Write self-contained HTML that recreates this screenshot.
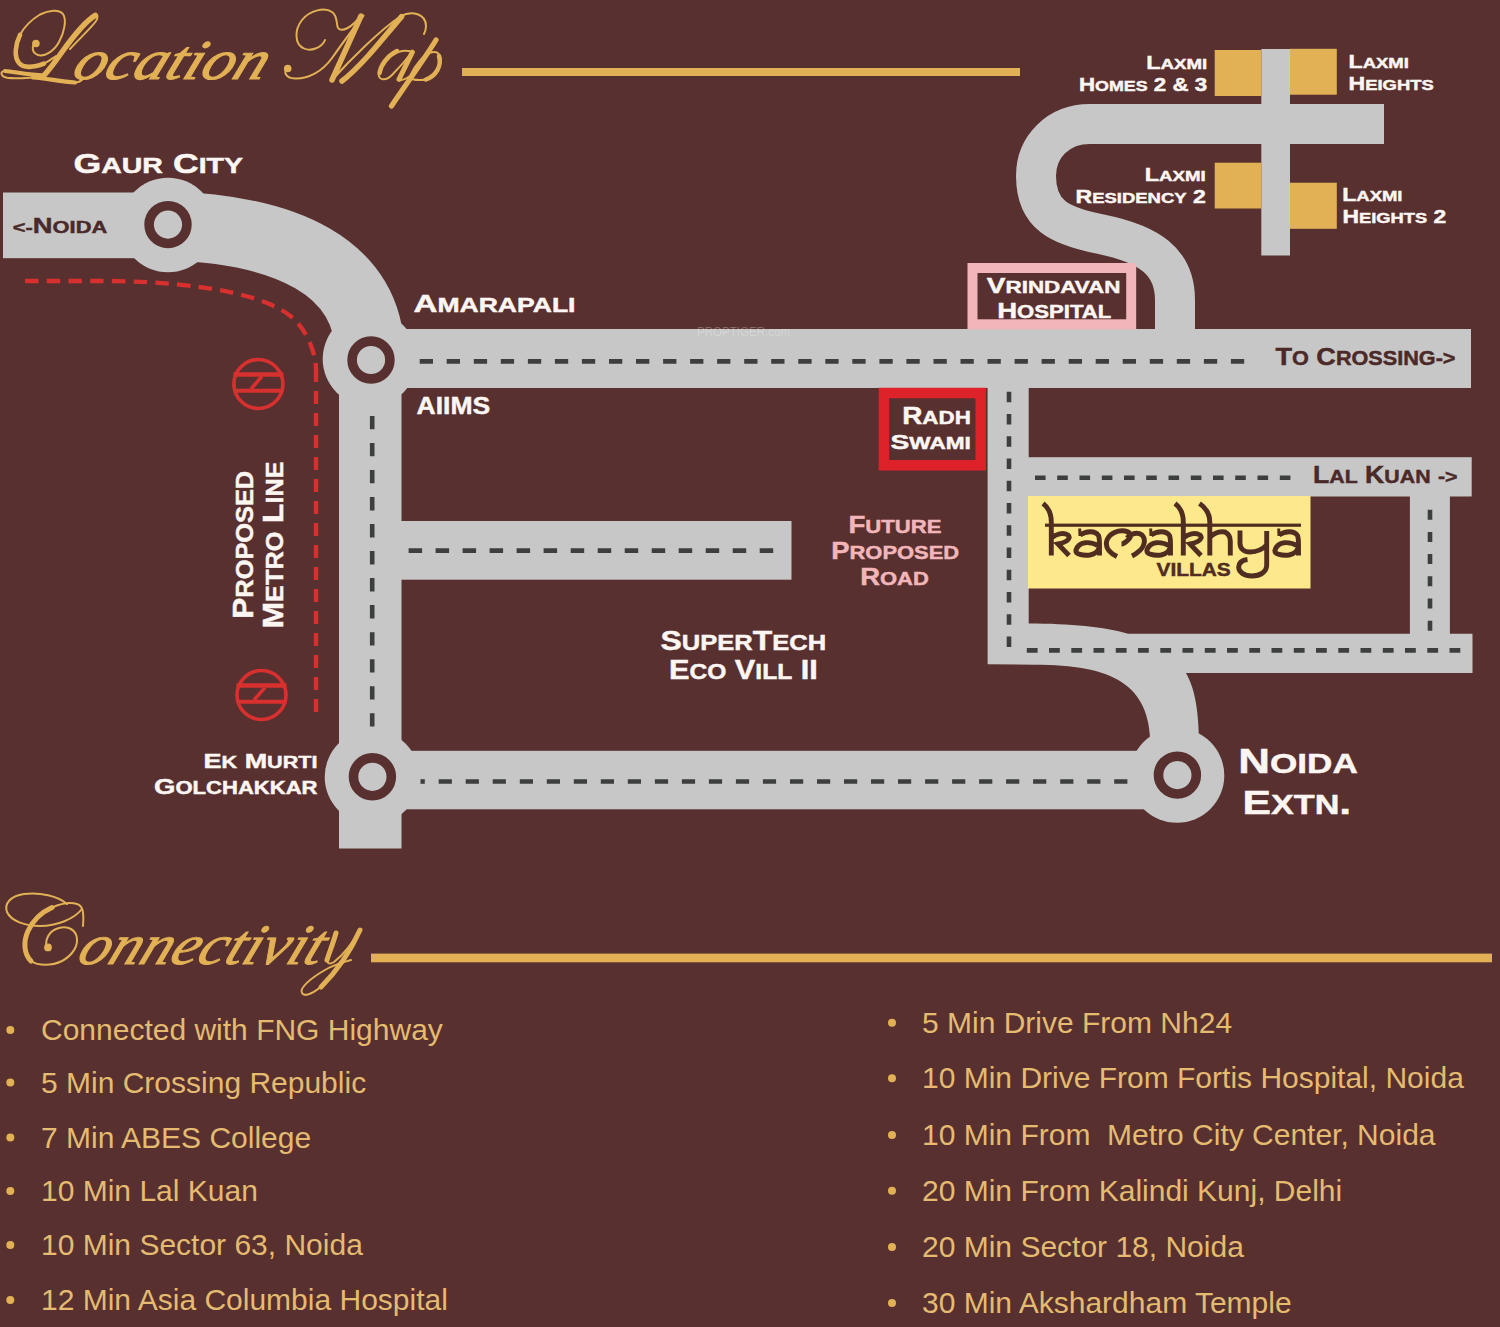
<!DOCTYPE html><html><head><meta charset="utf-8"><style>html,body{margin:0;padding:0;background:#57302f;}svg{display:block;font-family:"Liberation Sans",sans-serif;}</style></head><body>
<svg width="1500" height="1327" viewBox="0 0 1500 1327">
<rect width="1500" height="1327" fill="#57302f"/>
<g fill="none" stroke="#e2b155" stroke-linecap="round" stroke-linejoin="round">
<circle cx="35.9" cy="43.5" r="3.8" fill="#e2b155" stroke="none"/>
<path d="M35.9 43.5 C31 46 32 53 38 55 C45 57 54 51 59 42 C64 33 67 20 63 14 C59 9 49 10 40 14.5 C31 20 24 27 20 35" stroke-width="2"/>
<path d="M20 35 C15 45 14 57 19 63 C23 68 33 68 44 63.7" stroke-width="4.6"/>
<path d="M44 63.7 C49 61 53 58 56 56" stroke-width="2"/>
<path d="M95.3 15.3 C84 22 72 38 62 52 C55 62 49 70 44 75.4" stroke-width="5.5"/>
<path d="M95.3 15.3 C98 13 98 19 96 21 C92 27 80 38 70 49" stroke-width="2"/>
<path d="M44 75.4 C30 75 15 72 5 71" stroke-width="4"/>
<path d="M5 71 C0 71 0 76 7 77.8 C15 79 25 78 33 77.5" stroke-width="2"/>
<path d="M33 77.5 C45 78 60 81.5 75 82.5" stroke-width="4.2"/>
<path d="M75 82.5 C79 82.3 81 81 82 80" stroke-width="2"/>
<circle cx="287.7" cy="68.5" r="3.8" fill="#e2b155" stroke="none"/>
<path d="M287.7 68.5 C283 71 285 78 295 78.5 C308 79 322 72 332 58 C342 44 355 26 363.5 15.5" stroke-width="2"/>
<path d="M361 16 C352 36 342 58 332 80" stroke-width="5.5"/>
<path d="M325 40 C322 48 310 52 303 48 C295 44 294 30 302 20 C310 10 325 7 332 12 C338 16 336 24 338 28 C342 33 352 27 361 16" stroke-width="2"/>
<path d="M332 80 C350 60 380 30 401 16" stroke-width="2"/>
<path d="M401.6 16.6 C390 30 378 45 368 56 C358 67 350 75 342 81" stroke-width="5.5"/>
<path d="M401 16 C412 10 426 14 426 26 C426 30 425 32 424 34" stroke-width="2"/>
<path d="M412 52 C400 47 383 58 379 72 C377 80 385 82 392 75 C398 69 406 60 412 52" stroke-width="2"/>
<path d="M397 51 C387 56 381 65 379.5 73" stroke-width="4.5"/>
<path d="M412.4 52.2 L399 79.3" stroke-width="5"/>
<path d="M399 79.3 C402 81 406 79 410 76" stroke-width="2"/>
<path d="M436 40 C425 58 405 86 391.5 106" stroke-width="5.2"/>
<path d="M410 76 C415 65 425 52 434 52 C441 52 442 60 439 67 C435 76 428 80 420 80 C414 80 411 79 410 78" stroke-width="2"/>
<path d="M439 56 C442 66 436 76 426 79.5" stroke-width="4.5"/>
</g>
<text transform="translate(70 79) skewX(-22)" x="0" y="0" font-family="Liberation Serif" font-style="italic" font-size="56" fill="#e2b155" stroke="#e2b155" stroke-width="1.1" textLength="192" lengthAdjust="spacingAndGlyphs">ocation</text>
<rect x="462" y="68" width="558" height="8" fill="#e2b155"/>
<rect x="3" y="192.5" width="166" height="65.7" fill="#c6c7c6"/>
<path d="M168 226 C282 229 372 265 370 359" stroke="#c6c7c6" stroke-width="69" fill="none"/>
<rect x="370" y="329" width="1101" height="59" fill="#c6c7c6"/>
<rect x="339" y="359" width="62.5" height="489.5" fill="#c6c7c6"/>
<rect x="400" y="521" width="391.5" height="58.7" fill="#c6c7c6"/>
<rect x="372" y="750.8" width="805" height="58.5" fill="#c6c7c6"/>
<circle cx="168" cy="225" r="47.3" fill="#c6c7c6"/>
<circle cx="370" cy="359" r="47.3" fill="#c6c7c6"/>
<circle cx="372" cy="777" r="47.3" fill="#c6c7c6"/>
<circle cx="1177" cy="775.5" r="47.3" fill="#c6c7c6"/>
<path d="M987.6 388 L987.6 664.3 L1034.7 664.7 C1112 664.7 1150.4 684 1150.4 745 L1199 745 C1199 705 1193 685 1185.9 673 L1472.5 673 L1472.5 633.8 L1128 633.8 C1105 627 1070 623.6 1028.7 623.6 L1028.7 388 Z" fill="#c6c7c6"/>
<rect x="1028" y="457.2" width="443.7" height="39.3" fill="#c6c7c6"/>
<rect x="1409.9" y="496" width="40" height="138" fill="#c6c7c6"/>
<path d="M1384 124 L1090 124 C1058 124 1036 147 1036 176 C1036 215 1060 226 1100 234 C1150 244 1175 262 1175 300 L1175 335" stroke="#c6c7c6" stroke-width="40" fill="none"/>
<rect x="1261.3" y="49" width="28.7" height="206.5" fill="#c6c7c6"/>
<rect x="1214.7" y="50" width="46.6" height="46" fill="#e2b155"/>
<rect x="1290" y="48.8" width="46.8" height="45.9" fill="#e2b155"/>
<rect x="1214.7" y="162.7" width="46.6" height="45.8" fill="#e2b155"/>
<rect x="1290" y="182.7" width="46.8" height="46.1" fill="#e2b155"/>
<circle cx="168" cy="224.6" r="18.9" fill="none" stroke="#57302f" stroke-width="9.6"/>
<circle cx="371" cy="360" r="18.9" fill="none" stroke="#57302f" stroke-width="9.6"/>
<circle cx="372.4" cy="776.8" r="18.9" fill="none" stroke="#57302f" stroke-width="9.6"/>
<circle cx="1177.4" cy="775.1" r="18.9" fill="none" stroke="#57302f" stroke-width="9.6"/>
<path d="M419.7 359.10h13.3v4.6h-13.3zM446.7 359.10h13.3v4.6h-13.3zM473.8 359.10h13.3v4.6h-13.3zM500.8 359.10h13.3v4.6h-13.3zM527.9 359.10h13.3v4.6h-13.3zM554.9 359.10h13.3v4.6h-13.3zM581.9 359.10h13.3v4.6h-13.3zM609.0 359.10h13.3v4.6h-13.3zM636.0 359.10h13.3v4.6h-13.3zM663.1 359.10h13.3v4.6h-13.3zM690.1 359.10h13.3v4.6h-13.3zM717.1 359.10h13.3v4.6h-13.3zM744.2 359.10h13.3v4.6h-13.3zM771.2 359.10h13.3v4.6h-13.3zM798.3 359.10h13.3v4.6h-13.3zM825.3 359.10h13.3v4.6h-13.3zM852.3 359.10h13.3v4.6h-13.3zM879.4 359.10h13.3v4.6h-13.3zM906.4 359.10h13.3v4.6h-13.3zM933.5 359.10h13.3v4.6h-13.3zM960.5 359.10h13.3v4.6h-13.3zM987.5 359.10h13.3v4.6h-13.3zM1014.6 359.10h13.3v4.6h-13.3zM1041.6 359.10h13.3v4.6h-13.3zM1068.7 359.10h13.3v4.6h-13.3zM1095.7 359.10h13.3v4.6h-13.3zM1122.7 359.10h13.3v4.6h-13.3zM1149.8 359.10h13.3v4.6h-13.3zM1176.8 359.10h13.3v4.6h-13.3zM1203.9 359.10h13.3v4.6h-13.3zM1230.9 359.10h13.3v4.6h-13.3z" fill="#3d3f3e"/>
<path d="M369.90 416.0h4.6v13.3h-4.6zM369.90 443.0h4.6v13.3h-4.6zM369.90 470.0h4.6v13.3h-4.6zM369.90 497.1h4.6v13.3h-4.6zM369.90 524.1h4.6v13.3h-4.6zM369.90 551.1h4.6v13.3h-4.6zM369.90 578.1h4.6v13.3h-4.6zM369.90 605.1h4.6v13.3h-4.6zM369.90 632.2h4.6v13.3h-4.6zM369.90 659.2h4.6v13.3h-4.6zM369.90 686.2h4.6v13.3h-4.6zM369.90 713.2h4.6v13.3h-4.6z" fill="#3d3f3e"/>
<path d="M408.6 548.30h13.5v4.6h-13.5zM435.6 548.30h13.5v4.6h-13.5zM462.6 548.30h13.5v4.6h-13.5zM489.6 548.30h13.5v4.6h-13.5zM516.6 548.30h13.5v4.6h-13.5zM543.6 548.30h13.5v4.6h-13.5zM570.7 548.30h13.5v4.6h-13.5zM597.7 548.30h13.5v4.6h-13.5zM624.7 548.30h13.5v4.6h-13.5zM651.7 548.30h13.5v4.6h-13.5zM678.7 548.30h13.5v4.6h-13.5zM705.7 548.30h13.5v4.6h-13.5zM732.7 548.30h13.5v4.6h-13.5zM759.7 548.30h13.5v4.6h-13.5z" fill="#3d3f3e"/>
<path d="M438.7 779.20h13.2v4.6h-13.2zM465.7 779.20h13.2v4.6h-13.2zM492.7 779.20h13.2v4.6h-13.2zM519.8 779.20h13.2v4.6h-13.2zM546.8 779.20h13.2v4.6h-13.2zM573.8 779.20h13.2v4.6h-13.2zM600.8 779.20h13.2v4.6h-13.2zM627.8 779.20h13.2v4.6h-13.2zM654.9 779.20h13.2v4.6h-13.2zM681.9 779.20h13.2v4.6h-13.2zM708.9 779.20h13.2v4.6h-13.2zM735.9 779.20h13.2v4.6h-13.2zM762.9 779.20h13.2v4.6h-13.2zM790.0 779.20h13.2v4.6h-13.2zM817.0 779.20h13.2v4.6h-13.2zM844.0 779.20h13.2v4.6h-13.2zM871.0 779.20h13.2v4.6h-13.2zM898.0 779.20h13.2v4.6h-13.2zM925.1 779.20h13.2v4.6h-13.2zM952.1 779.20h13.2v4.6h-13.2zM979.1 779.20h13.2v4.6h-13.2zM1006.1 779.20h13.2v4.6h-13.2zM1033.1 779.20h13.2v4.6h-13.2zM1060.2 779.20h13.2v4.6h-13.2zM1087.2 779.20h13.2v4.6h-13.2zM1114.2 779.20h13.2v4.6h-13.2z" fill="#3d3f3e"/>
<rect x="420.5" y="779.2" width="4.3" height="4.6" fill="#3d3f3e"/>
<path d="M1006.70 391.8h4.6v10.4h-4.6zM1006.70 414.1h4.6v10.4h-4.6zM1006.70 436.3h4.6v10.4h-4.6zM1006.70 458.6h4.6v10.4h-4.6zM1006.70 480.8h4.6v10.4h-4.6zM1006.70 503.1h4.6v10.4h-4.6zM1006.70 525.3h4.6v10.4h-4.6zM1006.70 547.5h4.6v10.4h-4.6zM1006.70 569.8h4.6v10.4h-4.6zM1006.70 592.0h4.6v10.4h-4.6zM1006.70 614.3h4.6v10.4h-4.6zM1006.70 636.5h4.6v10.4h-4.6z" fill="#3d3f3e"/>
<path d="M1035.0 475.50h10.6v4.6h-10.6zM1057.2 475.50h10.6v4.6h-10.6zM1079.5 475.50h10.6v4.6h-10.6zM1101.8 475.50h10.6v4.6h-10.6zM1124.0 475.50h10.6v4.6h-10.6zM1146.2 475.50h10.6v4.6h-10.6zM1168.5 475.50h10.6v4.6h-10.6zM1190.8 475.50h10.6v4.6h-10.6zM1213.0 475.50h10.6v4.6h-10.6zM1235.2 475.50h10.6v4.6h-10.6zM1257.5 475.50h10.6v4.6h-10.6zM1279.8 475.50h10.6v4.6h-10.6z" fill="#3d3f3e"/>
<path d="M1026.8 648.10h10.8v4.6h-10.8zM1049.0 648.10h10.8v4.6h-10.8zM1071.3 648.10h10.8v4.6h-10.8zM1093.5 648.10h10.8v4.6h-10.8zM1115.8 648.10h10.8v4.6h-10.8zM1138.0 648.10h10.8v4.6h-10.8zM1160.3 648.10h10.8v4.6h-10.8zM1182.5 648.10h10.8v4.6h-10.8zM1204.8 648.10h10.8v4.6h-10.8zM1227.0 648.10h10.8v4.6h-10.8zM1249.3 648.10h10.8v4.6h-10.8zM1271.5 648.10h10.8v4.6h-10.8zM1293.8 648.10h10.8v4.6h-10.8zM1316.0 648.10h10.8v4.6h-10.8zM1338.3 648.10h10.8v4.6h-10.8zM1360.5 648.10h10.8v4.6h-10.8zM1382.8 648.10h10.8v4.6h-10.8zM1405.0 648.10h10.8v4.6h-10.8zM1427.3 648.10h10.8v4.6h-10.8zM1449.5 648.10h10.8v4.6h-10.8z" fill="#3d3f3e"/>
<path d="M1427.70 509.7h4.6v10.0h-4.6zM1427.70 531.9h4.6v10.0h-4.6zM1427.70 554.1h4.6v10.0h-4.6zM1427.70 576.3h4.6v10.0h-4.6zM1427.70 598.5h4.6v10.0h-4.6zM1427.70 620.7h4.6v10.0h-4.6z" fill="#3d3f3e"/>
<path d="M25 281 L110 281 C200 282 270 295 295 320 C312 338 316 360 316 369" stroke="#d8302f" stroke-width="4.3" fill="none" stroke-dasharray="13.5 8.2"/>
<path d="M313.8 369.0h4.4v13h-4.4zM313.8 391.0h4.4v13h-4.4zM313.8 413.0h4.4v13h-4.4zM313.8 435.0h4.4v13h-4.4zM313.8 457.0h4.4v13h-4.4zM313.8 479.0h4.4v13h-4.4zM313.8 501.0h4.4v13h-4.4zM313.8 523.0h4.4v13h-4.4zM313.8 545.0h4.4v13h-4.4zM313.8 567.0h4.4v13h-4.4zM313.8 589.0h4.4v13h-4.4zM313.8 611.0h4.4v13h-4.4zM313.8 633.0h4.4v13h-4.4zM313.8 655.0h4.4v13h-4.4zM313.8 677.0h4.4v13h-4.4zM313.8 699.0h4.4v13h-4.4z" fill="#d8302f"/>
<g stroke="#d8302f" fill="none"><circle cx="258.4" cy="384" r="24.5" stroke-width="3.6"/>
<path d="M233.4 374.5H283.4" stroke-width="4.6"/>
<path d="M233.4 390.8H283.4" stroke-width="4"/>
<path d="M261.9 376.5L250.9 389.0" stroke-width="3.6"/></g>
<g stroke="#d8302f" fill="none"><circle cx="261.5" cy="695" r="24.5" stroke-width="3.6"/>
<path d="M236.5 685.5H286.5" stroke-width="4.6"/>
<path d="M236.5 701.8H286.5" stroke-width="4"/>
<path d="M265.0 687.5L254.0 700.0" stroke-width="3.6"/></g>
<rect x="972.5" y="268" width="158.7" height="56.3" fill="none" stroke="#f2b6ba" stroke-width="10"/>
<rect x="883.9" y="393" width="96.8" height="72.3" fill="none" stroke="#dd2229" stroke-width="10.5"/>
<rect x="1028" y="496" width="282.5" height="92.5" fill="#fde98b"/>
<text x="73.5" y="172.5" textLength="169.5" lengthAdjust="spacingAndGlyphs" fill="#fcf6f3" stroke="#fcf6f3" stroke-width="0.45" font-weight="bold" ><tspan font-size="26.81">G</tspan><tspan font-size="21.45">AUR</tspan><tspan font-size="26.81"> C</tspan><tspan font-size="21.45">ITY</tspan></text>
<text x="12.8" y="233.3" textLength="94.4" lengthAdjust="spacingAndGlyphs" fill="#4b2929" stroke="#4b2929" stroke-width="0.45" font-weight="bold" ><tspan font-size="17.39">&lt;-</tspan><tspan font-size="21.74">N</tspan><tspan font-size="17.39">OIDA</tspan></text>
<text x="413.5" y="312.0" textLength="162.0" lengthAdjust="spacingAndGlyphs" fill="#fcf6f3" stroke="#fcf6f3" stroke-width="0.45" font-weight="bold" ><tspan font-size="24.64">A</tspan><tspan font-size="19.71">MARAPALI</tspan></text>
<text x="416.5" y="414.4" textLength="73.7" lengthAdjust="spacingAndGlyphs" fill="#fcf6f3" stroke="#fcf6f3" stroke-width="0.45" font-weight="bold" ><tspan font-size="23.77">AIIMS</tspan></text>
<text x="203.5" y="767.8" textLength="114.0" lengthAdjust="spacingAndGlyphs" fill="#fcf6f3" stroke="#fcf6f3" stroke-width="0.45" font-weight="bold" ><tspan font-size="21.01">E</tspan><tspan font-size="16.81">K</tspan><tspan font-size="21.01"> M</tspan><tspan font-size="16.81">URTI</tspan></text>
<text x="154.0" y="793.9" textLength="163.5" lengthAdjust="spacingAndGlyphs" fill="#fcf6f3" stroke="#fcf6f3" stroke-width="0.45" font-weight="bold" ><tspan font-size="22.32">G</tspan><tspan font-size="17.86">OLCHAKKAR</tspan></text>
<text x="660.5" y="649.6" textLength="165.7" lengthAdjust="spacingAndGlyphs" fill="#fcf6f3" stroke="#fcf6f3" stroke-width="0.45" font-weight="bold" ><tspan font-size="27.54">S</tspan><tspan font-size="22.03">UPER</tspan><tspan font-size="27.54">T</tspan><tspan font-size="22.03">ECH</tspan></text>
<text x="668.9" y="679.0" textLength="148.9" lengthAdjust="spacingAndGlyphs" fill="#fcf6f3" stroke="#fcf6f3" stroke-width="0.45" font-weight="bold" ><tspan font-size="27.10">E</tspan><tspan font-size="21.68">CO</tspan><tspan font-size="27.10"> V</tspan><tspan font-size="21.68">ILL</tspan><tspan font-size="27.10"> II</tspan></text>
<text x="848.5" y="533.3" textLength="93.0" lengthAdjust="spacingAndGlyphs" fill="#f2b6ba" stroke="#f2b6ba" stroke-width="0.45" font-weight="bold" ><tspan font-size="23.62">F</tspan><tspan font-size="18.90">UTURE</tspan></text>
<text x="831.2" y="559.0" textLength="128.0" lengthAdjust="spacingAndGlyphs" fill="#f2b6ba" stroke="#f2b6ba" stroke-width="0.45" font-weight="bold" ><tspan font-size="23.62">P</tspan><tspan font-size="18.90">ROPOSED</tspan></text>
<text x="860.2" y="584.6" textLength="68.6" lengthAdjust="spacingAndGlyphs" fill="#f2b6ba" stroke="#f2b6ba" stroke-width="0.45" font-weight="bold" ><tspan font-size="23.62">R</tspan><tspan font-size="18.90">OAD</tspan></text>
<text x="902.2" y="423.7" textLength="68.6" lengthAdjust="spacingAndGlyphs" fill="#fcf6f3" stroke="#fcf6f3" stroke-width="0.45" font-weight="bold" ><tspan font-size="23.77">R</tspan><tspan font-size="19.01">ADH</tspan></text>
<text x="890.5" y="449.3" textLength="80.3" lengthAdjust="spacingAndGlyphs" fill="#fcf6f3" stroke="#fcf6f3" stroke-width="0.45" font-weight="bold" ><tspan font-size="21.01">S</tspan><tspan font-size="16.81">WAMI</tspan></text>
<text x="986.8" y="292.5" textLength="133.7" lengthAdjust="spacingAndGlyphs" fill="#fcf6f3" stroke="#fcf6f3" stroke-width="0.45" font-weight="bold" ><tspan font-size="21.74">V</tspan><tspan font-size="17.39">RINDAVAN</tspan></text>
<text x="997.2" y="318.3" textLength="114.0" lengthAdjust="spacingAndGlyphs" fill="#fcf6f3" stroke="#fcf6f3" stroke-width="0.45" font-weight="bold" ><tspan font-size="22.32">H</tspan><tspan font-size="17.86">OSPITAL</tspan></text>
<text x="1275.5" y="365.0" textLength="180.0" lengthAdjust="spacingAndGlyphs" fill="#4b2929" stroke="#4b2929" stroke-width="0.45" font-weight="bold" ><tspan font-size="24.64">T</tspan><tspan font-size="19.71">O</tspan><tspan font-size="24.64"> C</tspan><tspan font-size="19.71">ROSSING-&gt;</tspan></text>
<text x="1313.0" y="483.3" textLength="144.5" lengthAdjust="spacingAndGlyphs" fill="#4b2929" stroke="#4b2929" stroke-width="0.45" font-weight="bold" ><tspan font-size="23.19">L</tspan><tspan font-size="18.55">AL</tspan><tspan font-size="23.19"> K</tspan><tspan font-size="18.55">UAN</tspan><tspan font-size="23.19"> </tspan><tspan font-size="18.55">-&gt;</tspan></text>
<text x="1238.2" y="773.3" textLength="119.6" lengthAdjust="spacingAndGlyphs" fill="#fcf6f3" stroke="#fcf6f3" stroke-width="0.45" font-weight="bold" ><tspan font-size="34.78">N</tspan><tspan font-size="27.83">OIDA</tspan></text>
<text x="1242.5" y="814.1" textLength="108.7" lengthAdjust="spacingAndGlyphs" fill="#fcf6f3" stroke="#fcf6f3" stroke-width="0.45" font-weight="bold" ><tspan font-size="33.91">E</tspan><tspan font-size="27.13">XTN</tspan><tspan font-size="33.91">.</tspan></text>
<text x="1146.2" y="69.3" textLength="61.0" lengthAdjust="spacingAndGlyphs" fill="#fcf6f3" stroke="#fcf6f3" stroke-width="0.45" font-weight="bold" ><tspan font-size="19.28">L</tspan><tspan font-size="15.42">AXMI</tspan></text>
<text x="1079.0" y="90.7" textLength="128.2" lengthAdjust="spacingAndGlyphs" fill="#fcf6f3" stroke="#fcf6f3" stroke-width="0.45" font-weight="bold" ><tspan font-size="19.28">H</tspan><tspan font-size="15.42">OMES</tspan><tspan font-size="19.28"> 2 &amp; 3</tspan></text>
<text x="1348.5" y="68.0" textLength="60.4" lengthAdjust="spacingAndGlyphs" fill="#fcf6f3" stroke="#fcf6f3" stroke-width="0.45" font-weight="bold" ><tspan font-size="19.28">L</tspan><tspan font-size="15.42">AXMI</tspan></text>
<text x="1348.5" y="89.8" textLength="85.3" lengthAdjust="spacingAndGlyphs" fill="#fcf6f3" stroke="#fcf6f3" stroke-width="0.45" font-weight="bold" ><tspan font-size="19.28">H</tspan><tspan font-size="15.42">EIGHTS</tspan></text>
<text x="1144.8" y="181.3" textLength="61.0" lengthAdjust="spacingAndGlyphs" fill="#fcf6f3" stroke="#fcf6f3" stroke-width="0.45" font-weight="bold" ><tspan font-size="19.28">L</tspan><tspan font-size="15.42">AXMI</tspan></text>
<text x="1075.5" y="202.7" textLength="130.3" lengthAdjust="spacingAndGlyphs" fill="#fcf6f3" stroke="#fcf6f3" stroke-width="0.45" font-weight="bold" ><tspan font-size="19.28">R</tspan><tspan font-size="15.42">ESIDENCY</tspan><tspan font-size="19.28"> 2</tspan></text>
<text x="1342.2" y="201.3" textLength="60.3" lengthAdjust="spacingAndGlyphs" fill="#fcf6f3" stroke="#fcf6f3" stroke-width="0.45" font-weight="bold" ><tspan font-size="19.28">L</tspan><tspan font-size="15.42">AXMI</tspan></text>
<text x="1342.5" y="223.0" textLength="103.8" lengthAdjust="spacingAndGlyphs" fill="#fcf6f3" stroke="#fcf6f3" stroke-width="0.45" font-weight="bold" ><tspan font-size="19.28">H</tspan><tspan font-size="15.42">EIGHTS</tspan><tspan font-size="19.28"> 2</tspan></text>
<g transform="translate(252.7 618.3) rotate(-90)">
<text x="-0.5" y="0.0" textLength="148.0" lengthAdjust="spacingAndGlyphs" fill="#fcf6f3" stroke="#fcf6f3" stroke-width="0.45" font-weight="bold" ><tspan font-size="28.99">P</tspan><tspan font-size="23.19">ROPOSED</tspan></text>
</g>
<g transform="translate(283 627.7) rotate(-90)">
<text x="-0.5" y="0.0" textLength="166.7" lengthAdjust="spacingAndGlyphs" fill="#fcf6f3" stroke="#fcf6f3" stroke-width="0.45" font-weight="bold" ><tspan font-size="28.99">M</tspan><tspan font-size="23.19">ETRO</tspan><tspan font-size="28.99"> L</tspan><tspan font-size="23.19">INE</tspan></text>
</g>
<path d="M1043 503.5 C1049 508 1051.3 514 1051.3 522 L1051.3 555.5 M1051.5 538 C1056 534 1063 532 1068 535 C1071 538 1068 542 1058 544 L1069 555.5 M1080 535 C1086 531 1095 530 1098.5 535.5 C1099.5 538 1099.5 542 1099.5 545 L1099.5 555.5 M1099 546 C1090 541 1079 541 1076 550 C1075 554 1083 556 1090 555 C1095 554 1098 551 1099 548 M1117 556.5 C1108 552 1105 546 1107 540 C1110 533 1118 530 1125 531 C1131 532 1132 537 1128 540 C1125 543 1122 544 1121.5 544 M1127 538 C1131 533 1138 532 1142 535 C1146 539 1145 547 1138 552 C1136 554 1134 555 1132 556 M 1151.0 535.0 C 1157.0 531.0 1166.0 530.0 1169.5 535.5 C 1170.5 538.0 1170.5 542.0 1170.5 545.0 L 1170.5 555.5 M 1170.0 546.0 C 1161.0 541.0 1150.0 541.0 1147.0 550.0 C 1146.0 554.0 1154.0 556.0 1161.0 555.0 C 1166.0 554.0 1169.0 551.0 1170.0 548.0 M 1175.0 503.5 C 1181.0 508.0 1183.3 514.0 1183.3 522.0 L 1183.3 555.5 M 1183.5 538.0 C 1188.0 534.0 1195.0 532.0 1200.0 535.0 C 1203.0 538.0 1200.0 542.0 1190.0 544.0 L 1201.0 555.5 M1199.5 503.5 C1206 508 1209.8 514 1209.8 522 L1209.8 555.5 M1209.8 537.5 C1214 533 1220 531 1225 532 C1229 534 1230.3 537 1230.3 541 L1230.3 555.5 M1240 530.5 L1240 543 C1240 549 1244 552 1250 552 C1257 552 1263 549 1266.5 545 M1266.7 531 L1266.7 565 C1266.7 572 1260 576 1252 576 C1244 576 1238.5 572 1238.7 567 C1239 562 1243 560 1247.5 559.5 M 1279.0 535.0 C 1285.0 531.0 1294.0 530.0 1297.5 535.5 C 1298.5 538.0 1298.5 542.0 1298.5 545.0 L 1298.5 555.5 M 1298.0 546.0 C 1289.0 541.0 1278.0 541.0 1275.0 550.0 C 1274.0 554.0 1282.0 556.0 1289.0 555.0 C 1294.0 554.0 1297.0 551.0 1298.0 548.0" fill="none" stroke="#502d20" stroke-width="4.9"/>
<path d="M1079.7 528.5 L1080 536 M 1150.7 528.5 L 1151.0 536.0 M 1278.7 528.5 L 1279.0 536.0" fill="none" stroke="#502d20" stroke-width="3"/>
<rect x="1045" y="523.6" width="256" height="3.2" fill="#502d20"/>
<text x="1156.5" y="575.5" textLength="74.3" lengthAdjust="spacingAndGlyphs" fill="#502d20" stroke="#502d20" stroke-width="0.45" font-weight="bold" ><tspan font-size="18.84">VILLAS</tspan></text>
<g fill="none" stroke="#e2b155" stroke-linecap="round" stroke-linejoin="round">
<circle cx="48" cy="947.4" r="3.9" fill="#e2b155" stroke="none"/>
<path d="M48 947.4 C44 944 47 933 56 929 C65 925 74 928 76.5 936 C79 945 73 955 62 961 C52 966 38 966 31 961" stroke-width="2"/>
<path d="M31 961 C24 954 23 942 28 931 C33 920 42 912 52 907.5" stroke-width="5"/>
<path d="M52 907.5 C60 904 70 902 77 904 C83 906 84 912 83 926" stroke-width="2"/>
<path d="M336 933 C334 943 330 952 328 958 C326 963 329 965 334 962 C343 955 353 942 359 931" stroke-width="2"/>
<path d="M336 933 C333 944 329 953 327 960" stroke-width="5"/>
<path d="M360 930 C351 950 338 970 321 987" stroke-width="5"/>
<path d="M323 985 C315 992 305 998 302 993 C299 988 311 978 325 970 C335 964 345 962 351 960" stroke-width="2"/>
<path d="M67 904 C58 896 40 892 24 894 C10 896 4 904 7 912 C11 921 25 926 40 926 C57 926 74 919 82 909" stroke-width="2"/>
</g>
<text transform="translate(75 963.5) skewX(-22)" x="0" y="0" font-family="Liberation Serif" font-style="italic" font-size="57" fill="#e2b155" stroke="#e2b155" stroke-width="0.9" textLength="243" lengthAdjust="spacingAndGlyphs">onnectivit</text>
<rect x="371" y="953.6" width="1121" height="8.7" fill="#e2b155"/>
<circle cx="10.3" cy="1030.0" r="4" fill="#e2b155"/>
<text x="41" y="1040.0" font-size="30" fill="#e4bb70">Connected with FNG Highway</text>
<circle cx="10.3" cy="1082.5" r="4" fill="#e2b155"/>
<text x="41" y="1092.5" font-size="30" fill="#e4bb70">5 Min Crossing Republic</text>
<circle cx="10.3" cy="1137.5" r="4" fill="#e2b155"/>
<text x="41" y="1147.5" font-size="30" fill="#e4bb70">7 Min ABES College</text>
<circle cx="10.3" cy="1191.0" r="4" fill="#e2b155"/>
<text x="41" y="1201.0" font-size="30" fill="#e4bb70">10 Min Lal Kuan</text>
<circle cx="10.3" cy="1245.0" r="4" fill="#e2b155"/>
<text x="41" y="1255.0" font-size="30" fill="#e4bb70">10 Min Sector 63, Noida</text>
<circle cx="10.3" cy="1300.0" r="4" fill="#e2b155"/>
<text x="41" y="1310.0" font-size="30" fill="#e4bb70">12 Min Asia Columbia Hospital</text>
<circle cx="892" cy="1022.8" r="4" fill="#e2b155"/>
<text x="922" y="1032.8" font-size="30" fill="#e4bb70">5 Min Drive From Nh24</text>
<circle cx="892" cy="1078.2" r="4" fill="#e2b155"/>
<text x="922" y="1088.2" font-size="30" fill="#e4bb70">10 Min Drive From Fortis Hospital, Noida</text>
<circle cx="892" cy="1134.9" r="4" fill="#e2b155"/>
<text x="922" y="1144.9" font-size="30" fill="#e4bb70">10 Min From  Metro City Center, Noida</text>
<circle cx="892" cy="1190.8" r="4" fill="#e2b155"/>
<text x="922" y="1200.8" font-size="30" fill="#e4bb70">20 Min From Kalindi Kunj, Delhi</text>
<circle cx="892" cy="1247.0" r="4" fill="#e2b155"/>
<text x="922" y="1257.0" font-size="30" fill="#e4bb70">20 Min Sector 18, Noida</text>
<circle cx="892" cy="1302.9" r="4" fill="#e2b155"/>
<text x="922" y="1312.9" font-size="30" fill="#e4bb70">30 Min Akshardham Temple</text>
<text x="697" y="336" font-size="12.5" fill="#ffffff" fill-opacity="0.28" textLength="93" lengthAdjust="spacingAndGlyphs">PROPTIGER.com</text>
</svg></body></html>
